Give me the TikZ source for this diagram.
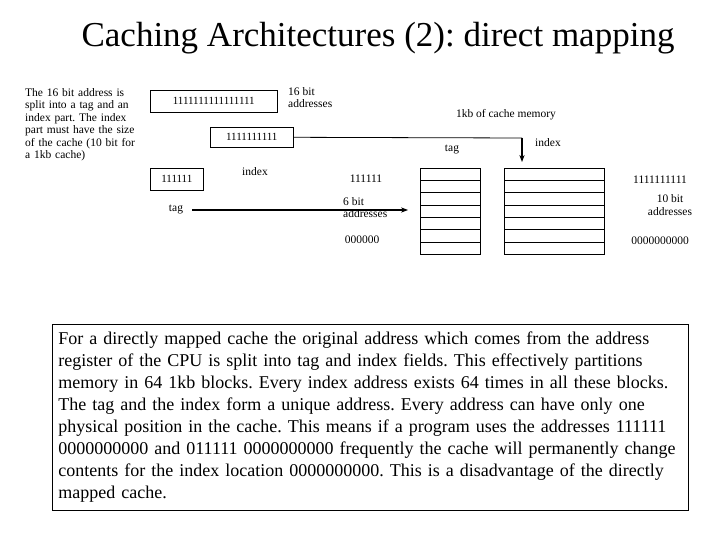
\documentclass[tikz,border=0pt]{standalone}
\usepackage{fontspec}
\setmainfont{Liberation Serif}
\usetikzlibrary{arrows.meta}
\begin{document}
\frenchspacing
\begin{tikzpicture}[x=1pt,y=-1pt,
  small/.style={font=\fontsize{11.5}{12.5}\selectfont,inner sep=0pt},
  bitbox/.style={draw,line width=0.6pt,font=\fontsize{11}{12}\selectfont,inner sep=0pt,anchor=north west},
  cell/.style={draw,line width=0.6pt}]
\useasboundingbox (0,0) rectangle (720,540);
\node[font=\fontsize{35}{40}\selectfont] (title) at (378,38) {Caching Architectures (2): direct mapping};
\node[small,anchor=north west,text width=118pt,align=left] (desc) at (25,88)
 {The 16 bit address is split into a tag and an index part. The index part must have the size of the cache (10 bit for a 1kb cache)};
\node[bitbox,minimum width=127pt,minimum height=22pt] (b16) at (150,90) {1111111111111111};
\node[small,anchor=north west,align=left] (l16) at (288,87) {16 bit\\addresses};
\node[bitbox,minimum width=83pt,minimum height=20pt] (b10) at (210,127) {1111111111};
\node[bitbox,minimum width=53pt,minimum height=22pt] (b6) at (150,168) {111111};
\node[small] (lidx) at (255,172) {index};
\node[small] (ltag) at (176,210) {tag};
\node[small] (t111) at (366,179) {111111};
\node[small,anchor=north west,align=left] (l6) at (343,197) {6 bit\\addresses};
\node[small] (t000) at (362,240) {000000};
\node[small] (l1kb) at (506,115) {1kb of cache memory};
\node[small] (ltag2) at (452,150) {tag};
\node[small] (lidx2) at (548,143) {index};
\node[small] (t1s) at (660,180) {1111111111};
\node[small,align=center] (l10) at (670,205) {10 bit\\addresses};
\node[small] (t0s) at (660,241) {0000000000};
\foreach \i in {0,...,6}{
  \draw[cell] (420,168+12.3*\i) rectangle (480,168+12.3*\i+12.3);
  \draw[cell] (504,168+12.3*\i) rectangle (604,168+12.3*\i+12.3);
}
\draw[line width=1.3pt,-{Stealth[length=7pt]}] (192,210) -- (408,210);
\draw[line width=0.8pt] (b10.east) -- (522,138);
\draw[line width=1.3pt,-{Stealth[length=7pt]}] (522,138) -- (522,162);
\node[draw,line width=0.8pt,anchor=north west,text width=624pt,minimum height=186pt,inner xsep=6pt,inner ysep=5pt,
  font=\fontsize{18}{22}\selectfont,align=left] (body) at (52,324)
 {For a directly mapped cache the original address which comes from the address\\
register of the CPU is split into tag and index fields. This effectively partitions\\
memory in 64 1kb blocks. Every index address exists 64 times in all these blocks.\\
The tag and the index form a unique address. Every address can have only one\\
physical position in the cache. This means if a program uses the addresses 111111\\
0000000000 and 011111 0000000000 frequently the cache will permanently change\\
contents for the index location 0000000000. This is a disadvantage of the directly\\
mapped cache.};
\end{tikzpicture}
\end{document}
